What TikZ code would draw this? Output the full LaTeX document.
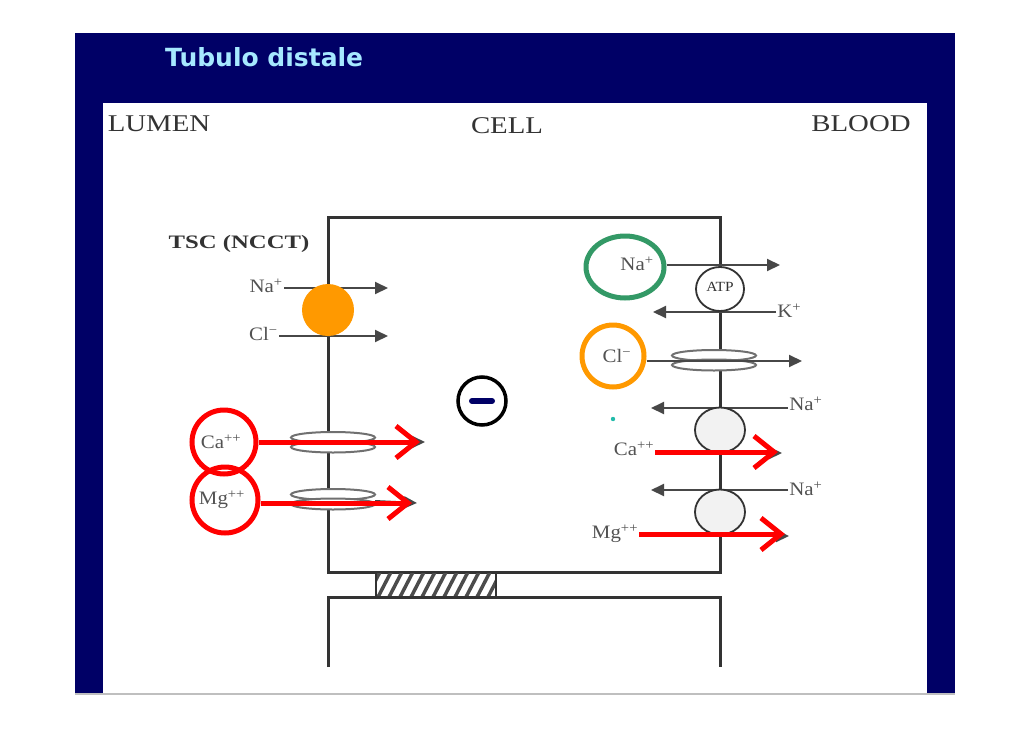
\documentclass[tikz,border=0pt]{standalone}
\usepackage{fontspec}
\setmainfont{Liberation Serif}
\newfontfamily\titlefont{DejaVu Sans}
\usetikzlibrary{arrows.meta,shapes.geometric}
\definecolor{navy}{HTML}{000066}
\definecolor{titlecol}{HTML}{A6E8FF}
\definecolor{ink}{HTML}{333333}
\definecolor{orng}{HTML}{FF9900}
\definecolor{grn}{HTML}{339966}
\definecolor{tealdot}{HTML}{22BBAA}
\tikzset{
  hdr/.style={font=\fontsize{24}{28}\selectfont, text=ink, inner sep=0pt, xscale=1.2},
  ion/.style={font=\fontsize{19}{21}\selectfont, text=ink!85, inner sep=1pt, xscale=1.1},
  wall/.style={draw=ink, line width=3pt},
  blk/.style={draw=ink!90, line width=2pt, -{Triangle[length=13pt,width=12pt]}},
  redarr/.style={draw=red, line width=5pt, -{Straight Barb[length=20pt,width=32pt]}},
  redring/.style={circle, draw=red, line width=5pt, inner sep=0pt},
  chan/.style={draw=ink!70, fill=white, line width=2pt},
  carrier/.style={ellipse, draw=ink, line width=1.8pt, inner sep=0pt, minimum width=50pt, minimum height=45pt},
}
\begin{document}
\begin{tikzpicture}[x=1pt,y=-1pt]
\useasboundingbox (0,0) rectangle (1030,728);
% frame
\fill[navy] (75,33) rectangle (955,694);
\fill[white] (103,103) rectangle (927,694);
\draw[gray!50, line width=1.5pt] (75,694) -- (955,694);
\node[font=\titlefont\bfseries\fontsize{25}{29}\selectfont, text=titlecol, anchor=west, inner sep=0pt] (title) at (165,57) {Tubulo distale};
% headers
\node[hdr] (lumen) at (159,124) {LUMEN};
\node[hdr] (cell) at (507,126) {CELL};
\node[hdr] (blood) at (861,124) {BLOOD};
% cell walls
\draw[wall] (328,572) -- (328,217) -- (720,217) -- (720,572) -- cycle;
\draw[wall] (328,667) -- (328,597) -- (720,597) -- (720,667);
% tight junction
\begin{scope}
\clip (376,572) rectangle (496,597);
\foreach \i in {0,...,13} \draw[gray!60!black, line width=3.5pt] (366+\i*11,599) -- (381+\i*11,570);
\end{scope}
\draw[ink, line width=2pt] (376,572) rectangle (496,597);
% left: TSC
\node[font=\bfseries\fontsize{19}{21}\selectfont, text=ink, inner sep=0pt, xscale=1.3] (tsc) at (239,244) {TSC (NCCT)};
\node[ion, anchor=east] (naL) at (284,286) {Na\textsuperscript{+}};
\node[ion, anchor=east] (clL) at (279,334) {Cl\textsuperscript{−}};
\coordinate (naLend) at (388,288);
\coordinate (clLend) at (388,336);
\draw[blk] (naL.east |- naLend) -- (naLend);
\draw[blk] (clL.east |- clLend) -- (clLend);
\node[circle, fill=orng, minimum size=52pt, inner sep=0pt] (tscc) at (328,310) {};
% left channels
\coordinate (caLtip) at (420,442);
\coordinate (mgLtip) at (412,503);
\coordinate (caLb) at (425,442);
\coordinate (mgLb) at (417,503);
\coordinate (caLch) at (333,442);
\coordinate (mgLch) at (333,499);
\draw[blk] (caLch) -- (caLb);
\draw[blk] (mgLch) -- (mgLb);
\fill[white] (291,436) rectangle (375,449);
\fill[white] (291,493) rectangle (375,506);
\draw[chan] (333,437.5) ellipse [x radius=42pt, y radius=5.5pt];
\draw[chan] (333,447) ellipse [x radius=42pt, y radius=5.5pt];
\draw[chan] (333,494.5) ellipse [x radius=42pt, y radius=5.5pt];
\draw[chan] (333,504) ellipse [x radius=42pt, y radius=5.5pt];
\node[ion] (caLl) at (221,442) {Ca\textsuperscript{++}};
\node[ion] (mgLl) at (222,500) {Mg\textsuperscript{++}};
\node[redring, minimum size=64pt] (caL) at (224,442) {};
\node[redring, minimum size=66pt] (mgL) at (225,500) {};
\draw[redarr] (caL.east |- caLtip) -- (caLtip);
\draw[redarr] (mgL.east |- mgLtip) -- (mgLtip);
% negative charge
\node[circle, draw=black, line width=3.5pt, minimum size=48pt, inner sep=0pt] (neg) at (482,401) {};
\draw[navy, line width=6pt, line cap=round] ([xshift=-10pt]neg.center) -- ([xshift=10pt]neg.center);
% right side
\node[ion] (naR) at (637,264) {Na\textsuperscript{+}};
\node[ellipse, draw=grn, line width=5pt, minimum width=78pt, minimum height=62pt, inner sep=0pt] (gNa) at (625,267) {};
\coordinate (naRend) at (780,265);
\draw[blk] (gNa.east |- naRend) -- (naRend);
\node[ion, anchor=west] (kR) at (776,311) {K\textsuperscript{+}};
\coordinate (kRend) at (653,312);
\draw[blk] (kR.west |- kRend) -- (kRend);
\node[carrier, fill=white, minimum width=48pt, minimum height=44pt] (atp) at (720,289) {};
\node[font=\fontsize{14}{15}\selectfont, text=ink, inner sep=0pt, xscale=1.1] (atpl) at (720,287) {ATP};
% Cl channel right
\node[ion] (clR) at (617,356) {Cl\textsuperscript{−}};
\node[redring, draw=orng, minimum size=62pt] (oCl) at (613,356) {};
\fill[white] (672,355) rectangle (756,366);
\draw[chan] (714,355.5) ellipse [x radius=42pt, y radius=5.5pt];
\draw[chan] (714,365) ellipse [x radius=42pt, y radius=5.5pt];
\coordinate (clRend) at (802,361);
\draw[blk] (oCl.east |- clRend) -- (clRend);
% Na/Ca exchanger
\node[ion, anchor=west] (na2) at (788,404) {Na\textsuperscript{+}};
\coordinate (na2end) at (651,408);
\draw[blk] (na2.west |- na2end) -- (na2end);
\node[carrier, fill=gray!10] (ex1) at (720,430) {};
\node[ion] (caR) at (634,449) {Ca\textsuperscript{++}};
\coordinate (caRtip) at (778,452);
\coordinate (caRb) at (782,453);
\draw[blk] (720,453) -- (caRb);
\draw[redarr] (caR.east |- caRtip) -- (caRtip);
\fill[tealdot] (613,419) circle [radius=2.2pt];
% Na/Mg exchanger
\node[ion, anchor=west] (na3) at (788,489) {Na\textsuperscript{+}};
\coordinate (na3end) at (651,490);
\draw[blk] (na3.west |- na3end) -- (na3end);
\node[carrier, fill=gray!10] (ex2) at (720,512) {};
\node[ion] (mgR) at (615,534) {Mg\textsuperscript{++}};
\coordinate (mgRtip) at (785,534);
\coordinate (mgRb) at (789,536);
\draw[blk] (720,536) -- (mgRb);
\draw[redarr] (mgR.east |- mgRtip) -- (mgRtip);
\end{tikzpicture}
\end{document}
